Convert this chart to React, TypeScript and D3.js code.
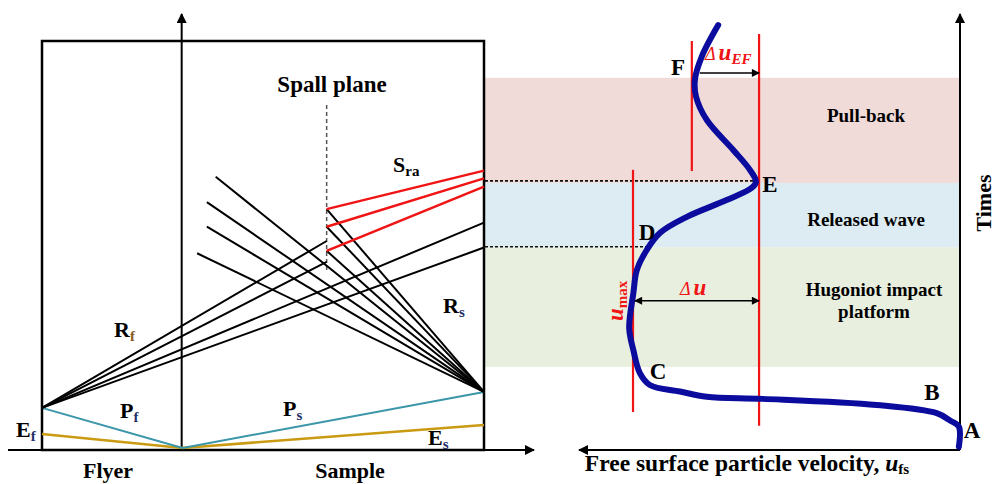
import React from "react";
import * as d3 from "d3";

// ---------- data (abstract units) ----------
// Left panel: position x in [0,100] across flyer+sample box, time t in [0,100]
const impactPoint = [31.8, 0.5];
const flyerPlastic = [[0, 10.3], impactPoint]; // Pf
const flyerElastic = [[0, 3.9], impactPoint]; // Ef
const samplePlastic = [impactPoint, [100, 14.2]]; // Ps
const sampleElastic = [impactPoint, [100, 6.1]]; // Es
const rfOrigin = [0, 10.3];
const rfEnds = [[64.4, 51.1], [64.4, 46.0], [100, 55.6], [100, 49.5]];
const rsOrigin = [100, 14.2];
const rsEnds = [[39.3, 66.8], [37.3, 60.6], [37.3, 54.6], [35.1, 48.1], [64.4, 58.9], [64.4, 54.6], [64.4, 48.7]];
const spallX = 64.4;
const spallRange = [44.0, 84.4];
const sraStartT = [58.9, 54.6, 48.7];
const sraEndT = [68.3, 66.4, 64.4];

// Right panel: free-surface velocity u (0 at A, increasing leftwards), time t
const curveU = [63.3, 67.6, 69.4, 69.1, 66.3, 59.3, 55.0, 53.4, 54.5, 61.1, 71.5, 78.5, 82.0, 84.6, 85.5, 86.6, 85.5, 83.8, 81.2, 73.3, 66.3, 51.6, 21.8, 6.1, 2.6, 0.3, 0.3];
const curveT = [103.9, 96.2, 90.5, 86.4, 80.7, 73.3, 68.5, 65.6, 64.1, 61.1, 57.0, 53.1, 48.9, 44.0, 38.4, 29.8, 24.4, 18.8, 15.9, 14.3, 13.0, 12.5, 11.0, 9.0, 7.2, 5.7, 0.8];
const bandNames = ["Hugoniot impact platform", "Released wave", "Pull-back"];
const bandLimits = [20.3, 49.6, 65.3, 91.0];
const bandColors = ["#e9efdf", "#dcecf2", "#f0dbd9"];
const redLineU = [70.2, 85.6, 52.6];
const redLineT0 = [68.2, 9.3, 5.9];
const redLineT1 = [100, 68.5, 101.7];
const pointE = [53.4, 65.8];
const pointD = [81.9, 49.7];

// ---------- scales ----------
const T = d3.scaleLinear().domain([0, 100]).range([450, 41]);
const XL = d3.scaleLinear().domain([0, 100]).range([42, 484]);
const U = d3.scaleLinear().domain([0, 100]).range([960, 578]);

const FONT = "'Liberation Serif', 'Times New Roman', serif";
const TEAL = "#3a96a8";
const GOLD = "#c99a12";
const RED = "#f01414";
const BLUE = "#0b0b9e";
const SUBC = "#24306a";

const segL = (a: number[], b: number[]) => `M${XL(a[0])},${T(a[1])}L${XL(b[0])},${T(b[1])}`;

export default function App() {
  const curvePts = curveU.map((u, i) => [u, curveT[i]] as [number, number]);
  const curvePath = d3
    .line<[number, number]>()
    .x((d) => U(d[0]))
    .y((d) => T(d[1]))
    .curve(d3.curveCatmullRom.alpha(0.5))(curvePts) as string;

  return (
    <svg width={997} height={484} style={{ position: "absolute", left: 0, top: 0, background: "#fff" }} fontFamily={FONT}>
      <defs>
        <marker id="ax" viewBox="0 0 10 10" refX="9" refY="5" markerWidth={12} markerHeight={10} markerUnits="userSpaceOnUse" orient="auto-start-reverse">
          <path d="M0,0 L10,5 L0,10 z" fill="#000" />
        </marker>
        <marker id="sm" viewBox="0 0 10 10" refX="9" refY="5" markerWidth={10} markerHeight={8} markerUnits="userSpaceOnUse" orient="auto-start-reverse">
          <path d="M0,0 L10,5 L0,10 z" fill="#000" />
        </marker>
      </defs>

      {/* bands */}
      {bandColors.map((c, i) => (
        <rect key={i} x={485} y={T(bandLimits[i + 1])} width={U(0) - 485} height={T(bandLimits[i]) - T(bandLimits[i + 1])} fill={c} />
      ))}

      {/* dotted guide lines */}
      <line x1={485} x2={U(pointE[0])} y1={T(pointE[1])} y2={T(pointE[1])} stroke="#111" strokeWidth={1.6} strokeDasharray="3,2" />
      <line x1={485} x2={U(pointD[0])} y1={T(pointD[1])} y2={T(pointD[1])} stroke="#111" strokeWidth={1.6} strokeDasharray="3,2" />

      {/* left box */}
      <rect x={XL(0)} y={T(100)} width={XL(100) - XL(0)} height={T(0) - T(100)} fill="none" stroke="#000" strokeWidth={2.5} />
      {/* left axes */}
      <line x1={8} x2={534} y1={T(0)} y2={T(0)} stroke="#000" strokeWidth={2} markerEnd="url(#ax)" />
      <line x1={XL(31.6)} x2={XL(31.6)} y1={T(0)} y2={14} stroke="#000" strokeWidth={2} markerEnd="url(#ax)" />

      {/* spall plane */}
      <line x1={XL(spallX)} x2={XL(spallX)} y1={T(spallRange[0])} y2={T(spallRange[1])} stroke="#555" strokeWidth={1.5} strokeDasharray="4,3" />

      {/* elastic & plastic waves */}
      <path d={segL(flyerElastic[0], flyerElastic[1])} stroke={GOLD} strokeWidth={2.5} fill="none" />
      <path d={segL(sampleElastic[0], sampleElastic[1])} stroke={GOLD} strokeWidth={2.5} fill="none" />
      <path d={segL(flyerPlastic[0], flyerPlastic[1])} stroke={TEAL} strokeWidth={2} fill="none" />
      <path d={segL(samplePlastic[0], samplePlastic[1])} stroke={TEAL} strokeWidth={2} fill="none" />

      {/* reflected waves */}
      {rfEnds.map((e, i) => (
        <path key={"rf" + i} d={segL(rfOrigin, e)} stroke="#000" strokeWidth={2} fill="none" />
      ))}
      {rsEnds.map((e, i) => (
        <path key={"rs" + i} d={segL(rsOrigin, e)} stroke="#000" strokeWidth={2} fill="none" />
      ))}
      {sraStartT.map((t, i) => (
        <path key={"sra" + i} d={segL([spallX, t], [100, sraEndT[i]])} stroke={RED} strokeWidth={2.5} fill="none" />
      ))}

      {/* left labels */}
      <text x={332} y={92} fontSize={23} fontWeight="bold" textAnchor="middle">Spall plane</text>
      <text x={393} y={172} fontSize={22} fontWeight="bold">S<tspan fontSize={15} dy={4}>ra</tspan></text>
      <text x={443} y={313} fontSize={22} fontWeight="bold">R<tspan fontSize={15} dy={4} fill={SUBC}>s</tspan></text>
      <text x={114} y={337} fontSize={22} fontWeight="bold">R<tspan fontSize={15} dy={4} fill="#8a5a1e">f</tspan></text>
      <text x={120} y={418} fontSize={22} fontWeight="bold">P<tspan fontSize={15} dy={4} fill={SUBC}>f</tspan></text>
      <text x={283} y={416} fontSize={22} fontWeight="bold">P<tspan fontSize={15} dy={4} fill={SUBC}>s</tspan></text>
      <text x={16} y={437} fontSize={22} fontWeight="bold">E<tspan fontSize={15} dy={4} fill={SUBC}>f</tspan></text>
      <text x={428} y={445} fontSize={22} fontWeight="bold">E<tspan fontSize={15} dy={4} fill={SUBC}>s</tspan></text>
      <text x={108} y={478} fontSize={22} fontWeight="bold" textAnchor="middle">Flyer</text>
      <text x={350} y={478} fontSize={22} fontWeight="bold" textAnchor="middle">Sample</text>

      {/* right axes */}
      <line x1={U(0)} x2={U(0)} y1={T(0)} y2={14} stroke="#000" strokeWidth={2} markerEnd="url(#ax)" />
      <line x1={U(0)} x2={579} y1={T(0)} y2={T(0)} stroke="#000" strokeWidth={2} markerEnd="url(#ax)" />

      {/* red reference lines */}
      {redLineU.map((u, i) => (
        <line key={"rl" + i} x1={U(u)} x2={U(u)} y1={T(redLineT0[i])} y2={T(redLineT1[i])} stroke={RED} strokeWidth={2.2} />
      ))}

      {/* velocity curve */}
      <path d={curvePath} fill="none" stroke={BLUE} strokeWidth={6} strokeLinejoin="round" strokeLinecap="round" />

      {/* arrows */}
      <line x1={U(68.1)} x2={U(redLineU[2])} y1={T(92.2)} y2={T(92.2)} stroke="#000" strokeWidth={1.5} markerEnd="url(#sm)" />
      <line x1={U(85.1)} x2={U(redLineU[2])} y1={T(36.5)} y2={T(36.5)} stroke="#000" strokeWidth={1.5} markerEnd="url(#sm)" markerStart="url(#sm)" />

      {/* red annotations */}
      <text x={705} y={60} fill={RED} fontWeight="bold">
        <tspan fontSize={18} fontStyle="italic" fontWeight="normal">Δ</tspan>
        <tspan fontSize={23} fontStyle="italic" dx={3}>u</tspan>
        <tspan fontSize={15} fontStyle="italic" dy={4}>EF</tspan>
      </text>
      <text x={680} y={295} fill={RED} fontWeight="bold">
        <tspan fontSize={18} fontStyle="italic" fontWeight="normal">Δ</tspan>
        <tspan fontSize={23} fontStyle="italic" dx={3}>u</tspan>
      </text>
      <text transform="translate(623,321) rotate(-90)" fill={RED} fontWeight="bold">
        <tspan fontSize={23} fontStyle="italic">u</tspan>
        <tspan fontSize={15} dy={4}>max</tspan>
      </text>

      {/* point letters */}
      <text x={678} y={75} fontSize={23} fontWeight="bold" textAnchor="middle">F</text>
      <text x={770} y={192} fontSize={23} fontWeight="bold" textAnchor="middle">E</text>
      <text x={647} y={240} fontSize={23} fontWeight="bold" textAnchor="middle">D</text>
      <text x={658} y={379} fontSize={23} fontWeight="bold" textAnchor="middle">C</text>
      <text x={932} y={400} fontSize={23} fontWeight="bold" textAnchor="middle">B</text>
      <text x={972} y={438} fontSize={23} fontWeight="bold" textAnchor="middle">A</text>

      {/* band labels */}
      <text x={866} y={122} fontSize={19} fontWeight="bold" textAnchor="middle">{bandNames[2]}</text>
      <text x={866} y={226} fontSize={19} fontWeight="bold" textAnchor="middle">{bandNames[1]}</text>
      <text x={874} y={296} fontSize={19} fontWeight="bold" textAnchor="middle">Hugoniot impact</text>
      <text x={874} y={318} fontSize={19} fontWeight="bold" textAnchor="middle">platform</text>

      {/* axis titles */}
      <text transform="translate(991,203) rotate(-90)" fontSize={22} fontWeight="bold" textAnchor="middle">Times</text>
      <text x={747} y={471} fontSize={23.5} fontWeight="bold" textAnchor="middle">
        Free surface particle velocity, <tspan fontStyle="italic">u</tspan>
        <tspan fontSize={15} dy={3}>fs</tspan>
      </text>
    </svg>
  );
}
